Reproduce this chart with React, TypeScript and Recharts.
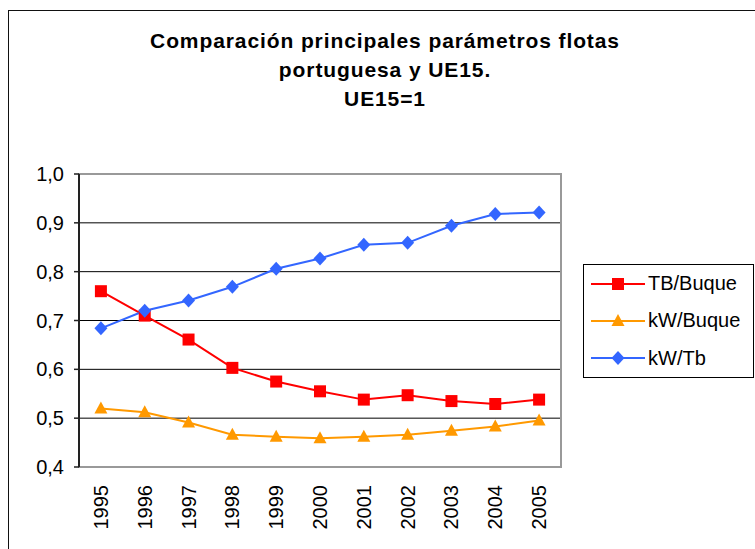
import React from "react";
import {
  CartesianGrid,
  Legend,
  Line,
  LineChart,
  ReferenceArea,
  XAxis,
  YAxis,
} from "recharts";

const years = [1995, 1996, 1997, 1998, 1999, 2000, 2001, 2002, 2003, 2004, 2005];
const tbBuque = [0.76, 0.71, 0.661, 0.603, 0.575, 0.555, 0.538, 0.547, 0.535, 0.529, 0.538];
const kwBuque = [0.52, 0.512, 0.491, 0.466, 0.462, 0.459, 0.462, 0.466, 0.474, 0.483, 0.495];
const kwTb = [0.684, 0.72, 0.741, 0.769, 0.806, 0.827, 0.855, 0.859, 0.894, 0.918, 0.921];
const yTicks = [0.4, 0.5, 0.6, 0.7, 0.8, 0.9, 1.0];
const titleLines = [
  "Comparación principales parámetros flotas",
  "portuguesa y UE15.",
  "UE15=1",
];

const data = years.map((year, i) => ({
  year,
  tb: tbBuque[i],
  kwb: kwBuque[i],
  kwt: kwTb[i],
}));

// tick marks sit between categories, Excel style
const boundaries = years.map((y) => y - 0.5).concat(years[years.length - 1] + 0.5);
const domain = [boundaries[0], boundaries[boundaries.length - 1]];

const FONT = "'Liberation Sans', Arial, sans-serif";

const markerKind: Record<string, string> = {
  "TB/Buque": "square",
  "kW/Buque": "triangle",
  "kW/Tb": "diamond",
};

function Marker({ cx, cy, kind, color }: { cx: number; cy: number; kind: string; color: string }) {
  if (cx == null || cy == null) return null;
  if (kind === "square") {
    return <rect x={cx - 6} y={cy - 6} width={12} height={12} fill={color} />;
  }
  if (kind === "triangle") {
    return (
      <polygon
        points={`${cx},${cy - 7} ${cx + 6.5},${cy + 5} ${cx - 6.5},${cy + 5}`}
        fill={color}
      />
    );
  }
  return (
    <polygon
      points={`${cx},${cy - 7} ${cx + 6.5},${cy} ${cx},${cy + 7} ${cx - 6.5},${cy}`}
      fill={color}
    />
  );
}

const makeDot = (kind: string, color: string) => (p: any) => (
  <Marker key={`${kind}-${p.index}`} cx={p.cx} cy={p.cy} kind={kind} color={color} />
);

function YearTick({ x, y, payload }: any) {
  return (
    <g transform={`translate(${x},${y})`}>
      <text
        transform="rotate(-90)"
        x={-18}
        y={0}
        dy="0.35em"
        textAnchor="end"
        fill="#000"
        fontSize={20}
        fontFamily={FONT}
      >
        {payload.value}
      </text>
    </g>
  );
}

function LegendBox({ payload }: any) {
  return (
    <div
      style={{
        width: 169,
        height: 112,
        border: "1px solid #000",
        background: "#fff",
        fontFamily: FONT,
        fontSize: 20,
      }}
    >
      {(payload || []).map((entry: any) => (
        <div
          key={entry.value}
          style={{ height: 37.3, display: "flex", alignItems: "center", paddingLeft: 7 }}
        >
          <svg width={57} height={16} style={{ display: "block" }}>
            <line x1={0} y1={8} x2={54} y2={8} stroke={entry.color} strokeWidth={2} />
            <Marker cx={27} cy={8} kind={markerKind[entry.value]} color={entry.color} />
          </svg>
          <span style={{ color: "#000", whiteSpace: "nowrap" }}>{entry.value}</span>
        </div>
      ))}
    </div>
  );
}

export default function App() {
  return (
    <div
      style={{
        position: "absolute",
        left: 0,
        top: 0,
        width: 755,
        height: 549,
        overflow: "hidden",
        background: "#fff",
        fontFamily: FONT,
      }}
    >
      <div
        style={{
          position: "absolute",
          left: 8,
          top: 10,
          width: 800,
          height: 600,
          border: "1.5px solid #111",
        }}
      />
      <div
        style={{
          position: "absolute",
          left: 85,
          top: 26,
          width: 600,
          textAlign: "center",
          fontWeight: "bold",
          fontSize: 21,
          lineHeight: "29px",
          letterSpacing: 0.9,
          color: "#000",
        }}
      >
        {titleLines.map((t) => (
          <div key={t}>{t}</div>
        ))}
      </div>
      <div style={{ position: "absolute", left: 0, top: 0 }}>
        <LineChart
          width={755}
          height={549}
          data={data}
          margin={{ top: 174, right: 194, bottom: 0, left: 0 }}
        >
          <CartesianGrid vertical={false} stroke="#000" strokeWidth={1} xAxisId="labels" fill="none" />
          <ReferenceArea
            xAxisId="labels"
            x1={domain[0]}
            x2={domain[1]}
            y1={0.4}
            y2={1.0}
            fill="none"
            fillOpacity={0}
            stroke="#999"
            strokeWidth={2}
          />
          <XAxis
            xAxisId="marks"
            type="number"
            dataKey="year"
            domain={domain}
            ticks={boundaries}
            interval={0}
            tickFormatter={() => ""}
            tickSize={5}
            height={0}
            axisLine={{ stroke: "#222", strokeWidth: 2 }}
            tickLine={{ stroke: "#222", strokeWidth: 1.5 }}
          />
          <XAxis
            xAxisId="labels"
            type="number"
            dataKey="year"
            domain={domain}
            ticks={years}
            interval={0}
            axisLine={false}
            tickLine={false}
            tickSize={0}
            tickMargin={0}
            height={82}
            tick={<YearTick />}
          />
          <YAxis
            type="number"
            domain={[0.4, 1.0]}
            ticks={yTicks}
            interval={0}
            width={79}
            tickSize={5}
            tickMargin={10}
            axisLine={{ stroke: "#222", strokeWidth: 2 }}
            tickLine={{ stroke: "#222", strokeWidth: 1.5 }}
            tick={{ fill: "#000", fontSize: 20, fontFamily: FONT }}
            tickFormatter={(v: number) => v.toFixed(1).replace(".", ",")}
          />
          <Legend
            layout="vertical"
            align="center"
            verticalAlign="middle"
            content={<LegendBox />}
            wrapperStyle={{ position: "absolute", left: 583, top: 264, width: 171, height: 114 }}
          />
          <Line
            xAxisId="labels"
            name="TB/Buque"
            dataKey="tb"
            type="linear"
            stroke="#FF0000"
            strokeWidth={2}
            dot={makeDot("square", "#FF0000")}
            activeDot={false}
            isAnimationActive={false}
          />
          <Line
            xAxisId="labels"
            name="kW/Buque"
            dataKey="kwb"
            type="linear"
            stroke="#FF9900"
            strokeWidth={2}
            dot={makeDot("triangle", "#FF9900")}
            activeDot={false}
            isAnimationActive={false}
          />
          <Line
            xAxisId="labels"
            name="kW/Tb"
            dataKey="kwt"
            type="linear"
            stroke="#3366FF"
            strokeWidth={2}
            dot={makeDot("diamond", "#3366FF")}
            activeDot={false}
            isAnimationActive={false}
          />
        </LineChart>
      </div>
    </div>
  );
}
